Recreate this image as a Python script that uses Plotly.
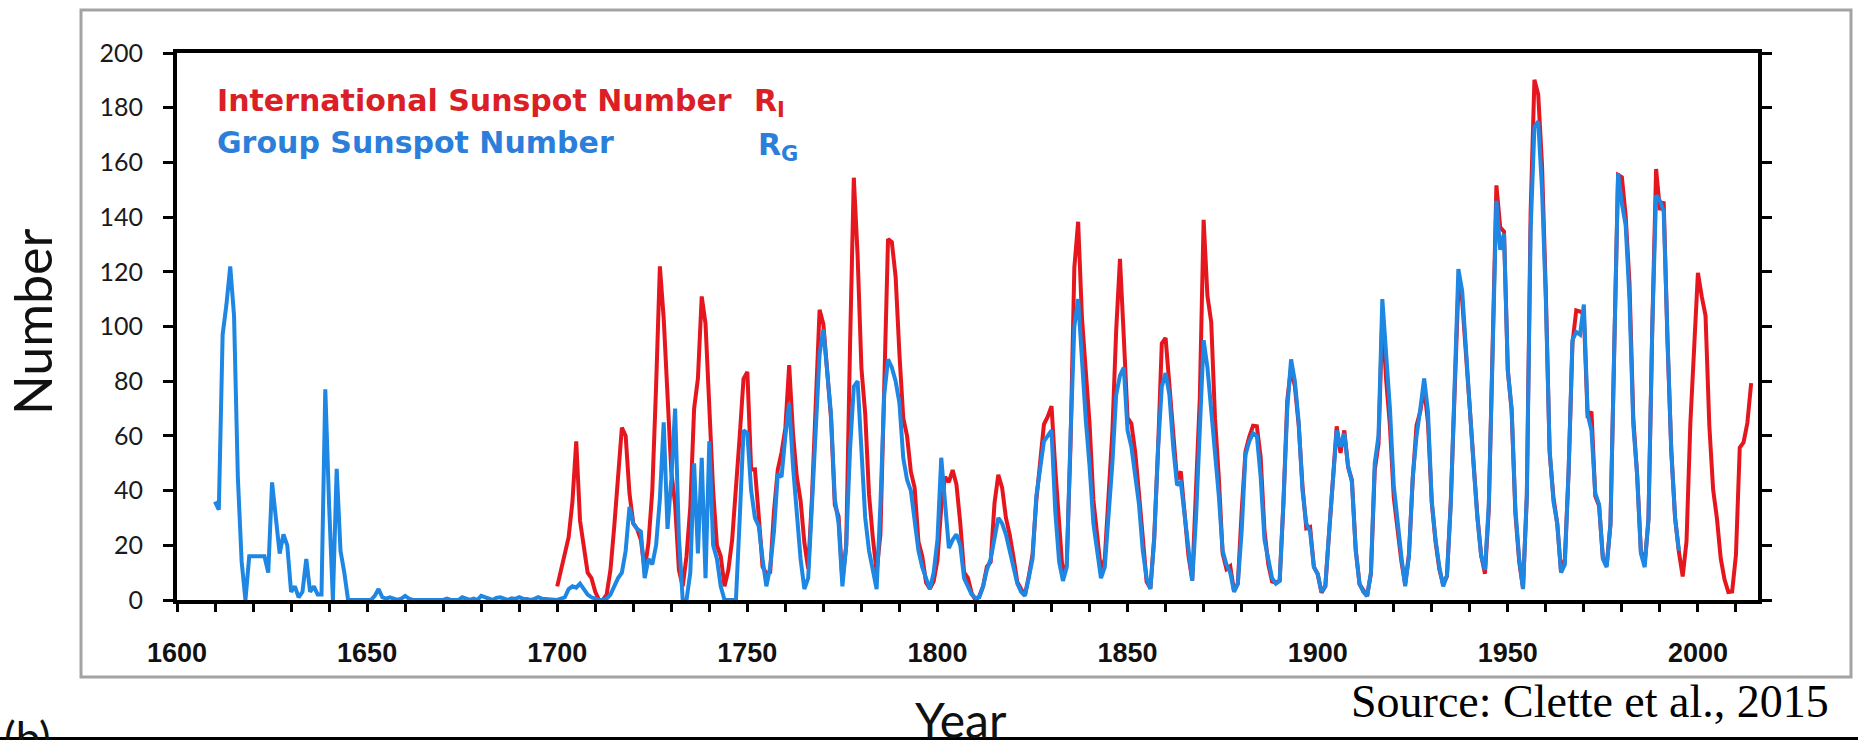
import plotly.graph_objects as go

# ---------------- data ----------------
ri_years = list(range(1700, 2015))
ri_values = [
    5, 11, 16, 23, 36, 58, 29, 20, 10, 8,
    3, 0, 0, 2, 11, 27, 47, 63, 60, 39,
    28, 26, 22, 11, 21, 40, 78, 122, 103, 73,
    47, 35, 11, 5, 16, 34, 70, 81, 111, 101,
    73, 40, 20, 16, 5, 11, 22, 40, 60, 80.9,
    83.4, 47.7, 47.8, 30.7, 12.2, 9.6, 10.2, 32.4, 47.6, 54,
    62.9, 85.9, 61.2, 45.1, 36.4, 20.9, 11.4, 37.8, 69.8, 106.1,
    100.8, 81.6, 66.5, 34.8, 30.6, 7, 19.8, 92.5, 154.4, 125.9,
    84.8, 68.1, 38.5, 22.8, 10.2, 24.1, 82.9, 132, 130.9, 118.1,
    89.9, 66.6, 60, 46.9, 41, 21.3, 16, 6.4, 4.1, 6.8,
    14.5, 34, 45, 43.1, 47.5, 42.2, 28.1, 10.1, 8.1, 2.5,
    0, 1.4, 5, 12.2, 13.9, 35.4, 45.8, 41.1, 30.1, 23.9,
    15.6, 6.6, 4, 1.8, 8.5, 16.6, 36.3, 49.6, 64.2, 67,
    70.9, 47.8, 27.5, 8.5, 13.2, 56.9, 121.5, 138.3, 103.2, 85.7,
    64.6, 36.7, 24.2, 10.7, 15, 40.1, 61.5, 98.5, 124.7, 96.3,
    66.6, 64.5, 54.1, 39, 20.6, 6.7, 4.3, 22.7, 54.8, 93.8,
    95.8, 77.2, 59.1, 44, 47, 30.5, 16.3, 7.3, 37.6, 74,
    139, 111.2, 101.6, 66.2, 44.7, 17, 11.3, 12.4, 3.4, 6,
    32.3, 54.3, 59.7, 63.7, 63.5, 52.2, 25.4, 13.1, 6.8, 6.3,
    7.1, 35.6, 73, 85.1, 78, 64, 41.8, 26.2, 26.7, 12.1,
    9.5, 2.7, 5, 24.4, 42, 63.5, 53.8, 62, 48.5, 43.9,
    18.6, 5.7, 3.6, 1.4, 9.6, 47.4, 57.1, 103.9, 80.6, 63.6,
    37.6, 26.1, 14.2, 5.8, 16.7, 44.3, 63.9, 69, 77.8, 64.9,
    35.7, 21.2, 11.1, 5.7, 8.7, 36.1, 79.7, 114.4, 109.6, 88.8,
    67.8, 47.5, 30.6, 16.3, 9.6, 33.2, 92.6, 151.6, 136.3, 134.7,
    83.9, 69.4, 31.5, 13.9, 4.4, 38, 141.7, 190.2, 184.8, 159,
    112.3, 53.9, 37.6, 27.9, 10.2, 15.1, 47, 93.8, 105.9, 105.5,
    104.5, 66.6, 68.9, 38, 34.5, 15.5, 12.6, 27.5, 92.5, 155.4,
    154.6, 140.4, 115.9, 66.6, 45.9, 17.9, 13.4, 29.4, 100.2, 157.6,
    142.6, 145.7, 94.3, 54.6, 29.9, 17.5, 8.6, 21.5, 64.3, 93.3,
    119.6, 111, 104, 63.7, 40.4, 29.8, 15.2, 7.5, 2.9, 3.1,
    16.5, 55.7, 57.6, 64.7, 79.3,
]

rg_years = list(range(1610, 1996))
rg_values = [
    36, 33, 97, 108, 122, 104, 45, 14, 0, 16,
    16, 16, 16, 16, 10, 43, 30, 17, 24, 20,
    3, 5, 1, 3, 15, 3, 5, 2, 2, 77,
    35, 0, 48, 18, 10, 0, 0, 0, 0, 0,
    0, 0, 1.5, 4, 1, 0.5, 1, 0.5, 0, 0.5,
    1.5, 0.5, 0, 0, 0, 0, 0, 0, 0, 0,
    0, 0.5, 0, 0, 0, 1, 0.5, 0, 0.5, 0,
    1.5, 1, 0.5, 0, 0.8, 1, 0.5, 0, 0.6, 0.4,
    1, 0.5, 0.4, 0, 0.4, 1, 0.5, 0.4, 0, 0,
    0, 0.5, 1, 4, 5, 4.5, 6, 4, 2, 1,
    0.5, 0, 0, 0.5, 2, 5, 8, 10, 18, 34,
    28, 26, 25, 8, 15, 13, 20, 37, 65, 26,
    44, 70, 23, 0, 0, 10, 50, 17, 52, 8,
    58, 20, 15, 5, 0, 0, 0, 0, 30, 62,
    61, 40, 30, 27, 15, 5, 12, 25, 46, 45,
    60, 72, 49, 33, 15, 4, 8, 35, 62, 90,
    99, 85, 68, 37, 28, 5, 20, 55, 78, 80,
    57, 30, 18, 10, 4, 35, 75, 88, 85, 80,
    72, 52, 44, 40, 28, 18, 12, 8, 4, 10,
    22, 52, 34, 19, 22, 24, 20, 8, 5, 2,
    0.7, 1, 5, 11, 15, 22, 30, 28, 24, 18,
    12, 6, 3, 1.5, 8, 15, 38, 48, 58, 60,
    62, 32, 14, 7, 12, 60, 100, 110, 86, 66,
    49, 28, 18, 8, 12, 30, 50, 75, 82, 85,
    62, 56, 45, 35, 18, 8, 4, 22, 55, 78,
    83, 75, 56, 42, 43, 30, 20, 7, 30, 60,
    95, 85, 70, 56, 38, 18, 13, 10, 3, 6,
    25, 53, 58, 61, 60, 45, 22, 15, 8, 6,
    7, 36, 70, 88, 80, 65, 40, 28, 25, 12,
    9.5, 3, 5, 25, 45, 62, 56, 61, 49, 43,
    18, 6, 3, 1.4, 10, 50, 60, 110, 90, 70,
    42, 28, 16, 5, 16, 45, 60, 70, 81, 69,
    36, 22, 12, 5, 9, 35, 83, 121, 113, 90,
    70, 49, 30, 16, 11, 35, 90, 146, 128, 134,
    84, 70, 33, 15, 4, 38, 135, 173, 175, 150,
    110, 55, 36, 28, 10, 13, 48, 95, 98, 97,
    108, 68, 62, 39, 35, 15, 12, 28, 92, 156,
    145, 137, 110, 64, 46, 17, 12, 30, 100, 148,
    146, 142, 96, 54, 30, 18,
]

x_tick_values = list(range(1600, 2011, 10))
x_tick_labels = [str(v) if v % 50 == 0 else "" for v in x_tick_values]
y_tick_values = list(range(0, 201, 20))

# ---------------- layout geometry ----------------
W, H = 1858, 740
PL, PR, PT, PB = 177, 1758, 53, 600


def xp(px):
    return (px - PL) / (PR - PL)


def yp(py):
    return (PB - py) / (PB - PT)


RED = "#E5161E"
BLUE = "#1E86E3"

fig = go.Figure()
fig.add_trace(go.Scatter(x=ri_years, y=ri_values, mode="lines",
                         line=dict(color=RED, width=4), name="R_I"))
fig.add_trace(go.Scatter(x=rg_years, y=rg_values, mode="lines",
                         line=dict(color=BLUE, width=4), name="R_G"))

fig.update_layout(
    width=W, height=H,
    margin=dict(l=PL, r=W - PR, t=PT, b=H - PB, pad=0),
    paper_bgcolor="white", plot_bgcolor="white",
    showlegend=False,
)

fig.update_xaxes(
    range=[1600, 2015.8], showgrid=False, zeroline=False,
    showline=True, linecolor="black", linewidth=4, mirror=True,
    ticks="outside", ticklen=8, tickwidth=3, tickcolor="black",
    tickmode="array", tickvals=x_tick_values, ticktext=x_tick_labels,
    tickfont=dict(family="Liberation Sans", size=27, color="#111111", weight="bold"),
    ticklabelstandoff=18,
)
fig.update_yaxes(
    range=[0, 200], showgrid=False, zeroline=False,
    showline=True, linecolor="black", linewidth=4, mirror="ticks",
    ticks="outside", ticklen=10, tickwidth=3, tickcolor="black",
    tickmode="array", tickvals=y_tick_values,
    tickfont=dict(family="Lato", size=25, color="#1a1a1a"),
    ticklabelstandoff=15,
)

shapes = [
    dict(type="rect", xref="paper", yref="paper",
         x0=xp(81), x1=xp(1851), y0=yp(677), y1=yp(10),
         line=dict(color="#a3a3a3", width=3), layer="below"),
    dict(type="rect", xref="paper", yref="paper",
         x0=xp(0), x1=xp(W), y0=yp(H + 2), y1=yp(737),
         fillcolor="black", line=dict(width=0), layer="above"),
]
fig.update_layout(shapes=shapes)

leg_font_r = dict(family="DejaVu Sans", size=30, color="#DA1F26")
leg_font_b = dict(family="DejaVu Sans", size=30, color="#2B7ED9")

annotations = [
    dict(text="<b>International Sunspot Number</b>", x=xp(215), y=yp(81),
         xanchor="left", yanchor="top", font=leg_font_r),
    dict(text="<b>R<sub>I</sub></b>", x=xp(752), y=yp(81),
         xanchor="left", yanchor="top", font=leg_font_r),
    dict(text="<b>Group Sunspot Number</b>", x=xp(215), y=yp(123),
         xanchor="left", yanchor="top", font=leg_font_b),
    dict(text="<b>R<sub>G</sub></b>", x=xp(756), y=yp(125),
         xanchor="left", yanchor="top", font=leg_font_b),
    dict(text="Number", x=xp(32), y=yp(322), textangle=-90,
         xanchor="center", yanchor="middle",
         font=dict(family="Lato", size=52, color="#111111")),
    dict(text="Year", x=xp(961), y=yp(689), xanchor="center", yanchor="top",
         font=dict(family="Lato", size=48, color="#111111")),
    dict(text="(b)", x=xp(2), y=yp(709), xanchor="left", yanchor="top",
         font=dict(family="Lato", size=44, color="#111111")),
    dict(text="Source: Clette et al., 2015", x=xp(1590), y=yp(674),
         xanchor="center", yanchor="top",
         font=dict(family="Liberation Serif", size=46, color="black")),
]
for a in annotations:
    a.update(xref="paper", yref="paper", showarrow=False)
fig.update_layout(annotations=annotations)

fig.write_html("out.html", config={"displayModeBar": False})
